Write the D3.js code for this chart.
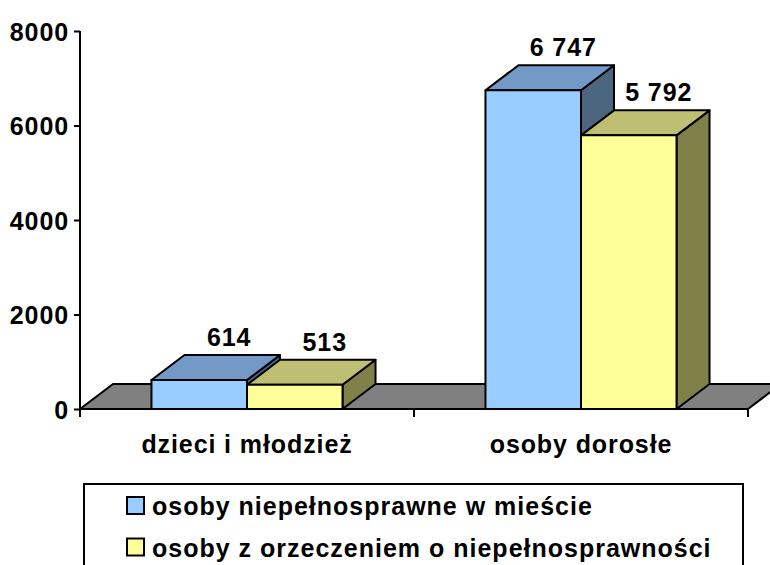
<!DOCTYPE html>
<html>
<head>
<meta charset="utf-8">
<script src="https://cdn.jsdelivr.net/npm/d3@7"></script>
<style>
  body { margin: 0; background: #fff; }
  svg text { font-family: "Liberation Sans", Arial, sans-serif; font-weight: bold; fill: #000; letter-spacing: 0.9px; }
</style>
</head>
<body>
<div id="my_dataviz"></div>
<script>
// Data
const categories = ["dzieci i młodzież", "osoby dorosłe"];
const seriesNames = [
  "osoby niepełnosprawne w mieście",
  "osoby z orzeczeniem o niepełnosprawności"
];
const niepelnosprawne = [614, 6747];
const zOrzeczeniem = [513, 5792];
const yTicks = [0, 2000, 4000, 6000, 8000];

// colours for each series: front, top, side
const colors = [
  { front: "#99ccff", top: "#7399c6", side: "#4d6680" },
  { front: "#ffff99", top: "#bfbf73", side: "#808049" }
];

let width = 770, height = 565;
let margin = { top: 31, left: 80, right: 22, bottom: 156 };
let floorY = height - margin.bottom; // 409
let depth = { x: 33, y: 25 };

let svg = d3
  .select("#my_dataviz")
  .append("svg")
  .attr("width", width)
  .attr("height", height);

let rows = categories.map(function (c, i) {
  return { cat: c, values: [niepelnosprawne[i], zOrzeczeniem[i]] };
});

// scales
let y = d3.scaleLinear().domain([0, 8000]).range([floorY, margin.top]);
let x0 = d3
  .scaleBand()
  .domain(categories)
  .range([margin.left, width - margin.right])
  .padding(0);
let groupW = x0.bandwidth() * 0.572;
let x1 = d3
  .scaleBand()
  .domain(d3.range(seriesNames.length))
  .range([(x0.bandwidth() - groupW) / 2, (x0.bandwidth() + groupW) / 2]);

let xLeft = x0.range()[0], xRight = x0.range()[1];

// floor
svg
  .append("path")
  .attr("d", d3.line()([
    [xLeft, floorY],
    [xRight, floorY],
    [xRight + depth.x, floorY - depth.y],
    [xLeft + depth.x, floorY - depth.y]
  ]) + "Z")
  .attr("fill", "#808080")
  .attr("stroke", "#000")
  .attr("stroke-width", 2)
  .attr("stroke-linejoin", "round");

// bars
let bars = [];
rows.forEach(function (r) {
  r.values.forEach(function (v, s) {
    bars.push({ cat: r.cat, s: s, v: v });
  });
});

let bar = svg
  .selectAll("g.bar")
  .data(bars)
  .enter()
  .append("g")
  .attr("class", "bar");

function faces(d) {
  let xa = x0(d.cat) + x1(d.s), xb = xa + x1.bandwidth();
  let yt = y(d.v), yb = y(0);
  return {
    side: [[xb, yt], [xb + depth.x, yt - depth.y], [xb + depth.x, yb - depth.y], [xb, yb]],
    top: [[xa, yt], [xa + depth.x, yt - depth.y], [xb + depth.x, yt - depth.y], [xb, yt]],
    front: [[xa, yt], [xb, yt], [xb, yb], [xa, yb]]
  };
}

["side", "top", "front"].forEach(function (f) {
  bar
    .append("path")
    .attr("d", function (d) {
      return d3.line()(faces(d)[f]) + "Z";
    })
    .attr("fill", function (d) {
      return colors[d.s][f];
    })
    .attr("stroke", "#000")
    .attr("stroke-width", 2)
    .attr("stroke-linejoin", "round");
});

// value labels, above the back of the top face
bar
  .append("text")
  .attr("x", function (d) {
    return x0(d.cat) + x1(d.s) + x1.bandwidth() / 2 + depth.x - 3;
  })
  .attr("y", function (d) {
    return y(d.v) - depth.y - 9;
  })
  .attr("text-anchor", "middle")
  .style("font-size", "25px")
  .text(function (d) {
    return d3.format(",")(d.v).replace(",", " ");
  });

// y axis
let yAxis = svg
  .append("g")
  .attr("transform", "translate(" + margin.left + ",0)")
  .call(d3.axisLeft(y).tickValues(yTicks).tickSize(6).tickPadding(5).tickFormat(d3.format("d")));
yAxis.select(".domain").attr("d", "M0," + margin.top + "V" + (floorY + 4)).attr("stroke-width", 2);
yAxis.selectAll(".tick line").attr("stroke-width", 2);
yAxis.selectAll("text").style("font-size", "25px").attr("dy", "0.36em");

// x axis: front edge of floor, ticks at category boundaries
let xAxis = svg.append("g");
xAxis
  .append("line")
  .attr("x1", xLeft)
  .attr("x2", xRight)
  .attr("y1", floorY)
  .attr("y2", floorY)
  .attr("stroke", "#000")
  .attr("stroke-width", 2);
xAxis
  .selectAll("line.tick")
  .data(categories.map(function (c) { return x0(c); }).concat([xRight]))
  .enter()
  .append("line")
  .attr("x1", function (d) { return d; })
  .attr("x2", function (d) { return d; })
  .attr("y1", floorY)
  .attr("y2", floorY + 8)
  .attr("stroke", "#000")
  .attr("stroke-width", 2);
xAxis
  .selectAll("text")
  .data(categories)
  .enter()
  .append("text")
  .attr("x", function (d) { return x0(d) + x0.bandwidth() / 2; })
  .attr("y", floorY + 44)
  .attr("text-anchor", "middle")
  .style("font-size", "25px")
  .text(function (d) { return d; });

// legend
let legend = svg.append("g").attr("transform", "translate(84,484)");
legend
  .append("rect")
  .attr("width", 659)
  .attr("height", 120)
  .attr("fill", "#fff")
  .attr("stroke", "#000")
  .attr("stroke-width", 2);
let item = legend
  .selectAll("g.item")
  .data(seriesNames)
  .enter()
  .append("g")
  .attr("class", "item")
  .attr("transform", function (d, i) {
    return "translate(43," + (13 + i * 41.5) + ")";
  });
item
  .append("rect")
  .attr("width", 17)
  .attr("height", 17)
  .attr("fill", function (d, i) { return colors[i].front; })
  .attr("stroke", "#000")
  .attr("stroke-width", 2);
item
  .append("text")
  .attr("x", 25)
  .attr("y", 18)
  .style("font-size", "25px")
  .style("letter-spacing", "1px")
  .text(function (d) { return d; });
</script>
</body>
</html>
